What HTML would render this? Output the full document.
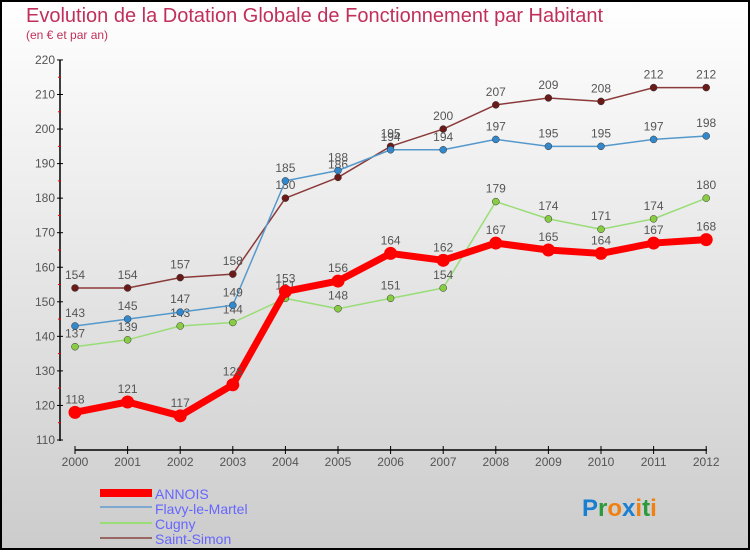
<!DOCTYPE html>
<html><head><meta charset="utf-8"><style>
body{margin:0;width:750px;height:550px;overflow:hidden;font-family:"Liberation Sans",sans-serif}
</style></head><body>
<svg id="c" width="750" height="550" xmlns="http://www.w3.org/2000/svg">
<defs><linearGradient id="bg" x1="0" y1="0" x2="0" y2="1"><stop offset="0" stop-color="#ffffff"/><stop offset="1" stop-color="#cccccc"/></linearGradient></defs>
<rect x="1" y="1" width="748" height="548" fill="url(#bg)" stroke="#000" stroke-width="2"/>
<text x="26" y="22" font-size="20" fill="#c0305a">Evolution de la Dotation Globale de Fonctionnement par Habitant</text>
<text x="26" y="39" font-size="12" fill="#c0305a">(en € et par an)</text>
<g id="axes"></g><g id="series"></g>
<g>
<rect x="100" y="489" width="52" height="8" fill="#ff0000"/>
<text x="155" y="499" font-size="14" fill="#6666ff">ANNOIS</text>
<rect x="100" y="506" width="52" height="2" fill="#7fa8d0"/>
<text x="155" y="514" font-size="14" fill="#6666ff">Flavy-le-Martel</text>
<rect x="100" y="522" width="52" height="2" fill="#99dd77"/>
<text x="155" y="529" font-size="14" fill="#6666ff">Cugny</text>
<rect x="100" y="537" width="52" height="2" fill="#996666"/>
<text x="155" y="544" font-size="14" fill="#6666ff">Saint-Simon</text>
</g>
<text x="582" y="516" font-size="24" font-weight="bold"><tspan fill="#1a7fd0">P</tspan><tspan fill="#2a9a3a">r</tspan><tspan fill="#f08010">o</tspan><tspan fill="#1a7fd0">x</tspan><tspan fill="#f08010">i</tspan><tspan fill="#2a9a3a">t</tspan><tspan fill="#f08010">i</tspan></text>
</svg>
<script>
const years=["2000","2001","2002","2003","2004","2005","2006","2007","2008","2009","2010","2011","2012"];
const yTicks=[110,120,130,140,150,160,170,180,190,200,210,220];
const annois=[118,121,117,126,153,156,164,162,167,165,164,167,168];
const flavy=[143,145,147,149,185,188,194,194,197,195,195,197,198];
const cugny=[137,139,143,144,151,148,151,154,179,174,171,174,180];
const saintSimon=[154,154,157,158,180,186,195,200,207,209,208,212,212];
const NS="http://www.w3.org/2000/svg";
function X(i){return 75+i*52.6;}
function Y(v){return 440-(v-110)*3.455;}
function mk(t,a,p){const e=document.createElementNS(NS,t);for(const k in a)e.setAttribute(k,a[k]);p.appendChild(e);return e;}
const ax=document.getElementById('axes');
let l=mk('line',{x1:60,y1:60,x2:60,y2:441,stroke:'#000','stroke-width':1.5},ax);


l=mk('line',{x1:75,y1:450,x2:707,y2:450,stroke:'#000','stroke-width':1.5},ax);


yTicks.forEach((v,i)=>{
 mk('line',{x1:57,y1:Y(v),x2:63,y2:Y(v),stroke:'#000'},ax);
 if(i<yTicks.length-1)mk('line',{x1:58,y1:Y(v+5),x2:61,y2:Y(v+5),stroke:'#e00'},ax);
 const t=mk('text',{x:55,y:Y(v)+4,'font-size':12,'text-anchor':'end',fill:'#555'},ax);t.textContent=v;
 
 
});
years.forEach((y,i)=>{
 mk('line',{x1:X(i),y1:446,x2:X(i),y2:454,stroke:'#000'},ax);
 const t=mk('text',{x:X(i),y:466,'font-size':12,'text-anchor':'middle',fill:'#555'},ax);t.textContent=y;
 
 
});
const sg=document.getElementById('series');
function series(d,col,dot,w,r,name){
 const g=mk('g',{},sg);
 
 
 const p=mk('polyline',{points:d.map((v,i)=>X(i)+','+Y(v)).join(' '),fill:'none',stroke:col,'stroke-width':w,'stroke-linejoin':'round'},g);
 
 
 d.forEach((v,i)=>{
  const c=mk('circle',{cx:X(i),cy:Y(v),r:r,fill:dot,stroke:r>4?'none':'#333','stroke-width':0.5},g);
  
  
  const t=mk('text',{x:X(i),y:Y(v)-9,'font-size':12,'text-anchor':'middle',fill:'#555'},g);t.textContent=v;
  
  
 });
}
series(saintSimon,'#8b3a3a','#6b1a1a',1.5,3.5,'saint-simon');
series(cugny,'#99dd77','#88cc44',1.5,3.5,'cugny');
series(flavy,'#5599cc','#3388cc',1.5,3.5,'flavy');
series(annois,'#ff0000','#ff0000',7,6.5,'annois');
</script>
</body></html>
